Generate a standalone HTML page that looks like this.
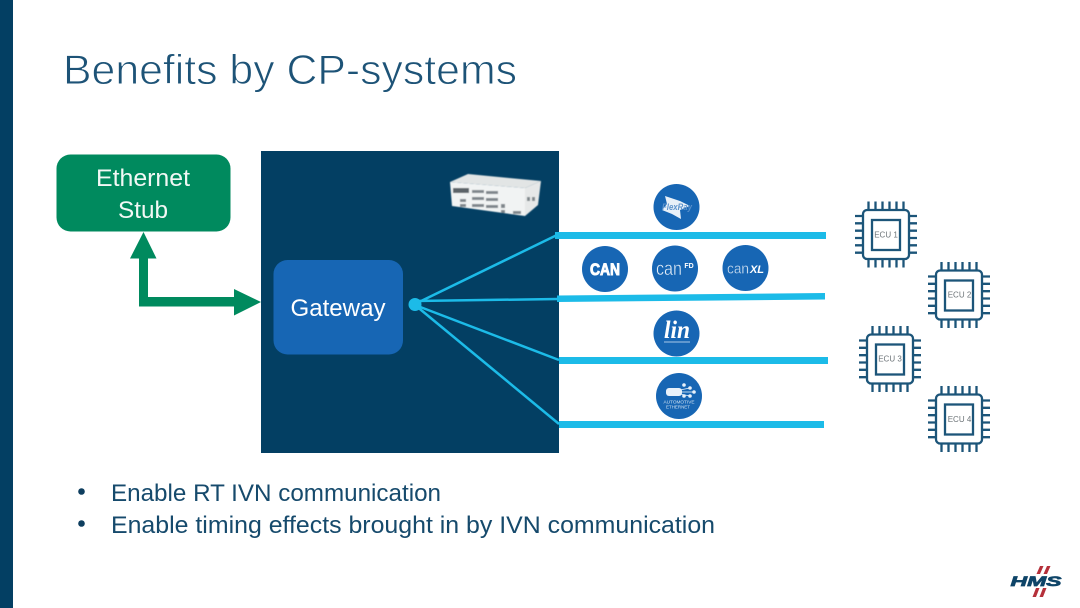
<!DOCTYPE html>
<html><head><meta charset="utf-8"><style>
html,body{margin:0;padding:0;background:#fff}
svg{display:block}
text{font-family:"Liberation Sans",sans-serif}
</style></head><body>
<svg xmlns="http://www.w3.org/2000/svg" width="1080" height="608" viewBox="0 0 1080 608">
<defs>
<g id="chip" fill="none" stroke="#1c5579" stroke-width="2.300">
<rect x="-23" y="-24.500" width="46" height="49" rx="4"/>
<rect x="-14" y="-14.500" width="28" height="30"/>
<path d="M-17.500-25V-33M-10.500-25V-33M-3.500-25V-33M3.500-25V-33M10.500-25V-33M17.500-25V-33M-17.500 25V33M-10.500 25V33M-3.500 25V33M3.500 25V33M10.500 25V33M17.500 25V33M-23-18.500H-31M-23-11.200H-31M-23-3.800H-31M-23 3.500H-31M-23 10.800H-31M-23 18.200H-31M23-18.500H31M23-11.200H31M23-3.800H31M23 3.500H31M23 10.800H31M23 18.200H31"/>
</g>
<filter id="soft" x="-10%" y="-10%" width="120%" height="120%"><feGaussianBlur stdDeviation="0.500"/></filter>
</defs>
<rect width="1080" height="608" fill="#fff"/>
<rect x="0" y="0" width="13" height="608" fill="#033f63"/>
<text x="63" y="84" font-size="42" fill="#1d5377" stroke="#fff" stroke-width="0.900" textLength="454" lengthAdjust="spacingAndGlyphs">Benefits by CP-systems</text>

<rect x="261" y="151" width="298" height="302" fill="#033f63"/>

<rect x="56.500" y="154.500" width="174" height="77" rx="14" fill="#008a5e"/>
<text x="143" y="186" font-size="24" fill="#f2f8f5" text-anchor="middle" textLength="94" lengthAdjust="spacingAndGlyphs">Ethernet</text>
<text x="143" y="218" font-size="24" fill="#f2f8f5" text-anchor="middle" textLength="50" lengthAdjust="spacingAndGlyphs">Stub</text>

<path d="M143.500 232L156.500 258.500H148V297H234V289L261 302L234 315.500V306.500H139V258.500H130Z" fill="#008a5e"/>

<rect x="273.500" y="260" width="129.500" height="94.500" rx="14" fill="#1766b4"/>
<text x="338" y="316" font-size="24" fill="#fff" text-anchor="middle" textLength="95" lengthAdjust="spacingAndGlyphs">Gateway</text>

<g stroke="#1cbbe8" stroke-width="2.500" fill="none">
<line x1="415" y1="304" x2="557" y2="235"/>
<line x1="415" y1="301" x2="558" y2="299"/>
<line x1="415" y1="305" x2="559" y2="360"/>
<line x1="415" y1="305" x2="559" y2="424"/>
</g>
<circle cx="415" cy="304.500" r="6.500" fill="#1cbbe8"/>

<g fill="#1cbbe8">
<rect x="555" y="232" width="271" height="7"/>
<polygon points="557,295.500 825,293 825,299.500 557,302"/>
<rect x="559" y="357" width="269" height="7"/>
<rect x="559" y="421" width="265" height="7"/>
</g>

<!-- gateway device -->
<g filter="url(#soft)">
<polygon points="450,182 468,174 541,181 525,188" fill="#e2e5e5"/>
<polygon points="450,182 525,188 525,216 452,206" fill="#f1f3f3"/>
<polygon points="525,188 541,181 538,205 525,216" fill="#e6e8e8"/>
<rect x="453" y="188" width="16" height="5" fill="#5b6368"/>
<g fill="#80878c">
<rect x="472" y="190" width="12" height="3"/><rect x="486" y="191" width="12" height="3"/>
<rect x="472" y="197" width="12" height="3"/><rect x="486" y="198" width="12" height="3"/>
<rect x="472" y="204" width="12" height="3"/><rect x="486" y="205" width="12" height="3"/>
<rect x="460" y="199" width="6" height="3"/><rect x="460" y="204" width="6" height="3"/>
<rect x="501" y="204" width="4" height="4"/><rect x="501" y="210" width="4" height="3"/>
<rect x="513" y="211" width="8" height="3"/>
<rect x="527" y="197" width="3" height="4"/><rect x="532" y="197" width="3" height="4"/>
</g>
</g>

<!-- protocol badges -->
<g fill="#1766b4">
<circle cx="676.500" cy="207" r="23"/>
<circle cx="605" cy="269" r="23"/>
<circle cx="675" cy="268.500" r="23"/>
<circle cx="745.500" cy="268" r="23"/>
<circle cx="676.500" cy="333.500" r="23"/>
<circle cx="679" cy="396" r="23"/>
</g>
<polygon points="665,196 680,201 690,206 680,210 681,219 672,214 662,210 667,204" fill="#e8f0f8"/>
<text x="677" y="210" font-size="9" font-style="italic" font-weight="bold" fill="#5d93cc" text-anchor="middle" textLength="30" lengthAdjust="spacingAndGlyphs">FlexRay</text>
<text x="605" y="275" font-size="17" font-weight="bold" fill="#fff" stroke="#fff" stroke-width="1" text-anchor="middle" textLength="30" lengthAdjust="spacingAndGlyphs">CAN</text>
<text x="669" y="275" font-size="19" fill="#e6eff8" stroke="#1766b4" stroke-width="0.400" text-anchor="middle" textLength="26" lengthAdjust="spacingAndGlyphs">can</text>
<text x="689" y="268" font-size="7" font-weight="bold" fill="#fff" text-anchor="middle">FD</text>
<text x="738" y="273.500" font-size="15" fill="#d4e3f2" stroke="#1766b4" stroke-width="0.300" text-anchor="middle" textLength="22" lengthAdjust="spacingAndGlyphs">can</text>
<text x="757" y="273" font-size="11" font-weight="bold" font-style="italic" fill="#fff" text-anchor="middle">XL</text>
<text x="677" y="338" font-size="25" font-style="italic" font-weight="bold" fill="#fff" text-anchor="middle" style="font-family:'Liberation Serif',serif" textLength="26" lengthAdjust="spacingAndGlyphs">lin</text>
<rect x="664" y="341.500" width="26" height="1" fill="#a8c8e8"/>
<g fill="#e8f1fa">
<rect x="666" y="388" width="16" height="8" rx="3"/>
<circle cx="684" cy="385" r="1.800"/><circle cx="690" cy="388" r="1.800"/><circle cx="694" cy="392" r="1.800"/><circle cx="690" cy="396" r="1.800"/><circle cx="684" cy="396" r="1.800"/>
</g>
<g stroke="#e8f1fa" stroke-width="0.800"><line x1="680" y1="390" x2="690" y2="388"/><line x1="680" y1="392" x2="694" y2="392"/><line x1="680" y1="394" x2="690" y2="396"/></g>
<text x="679" y="403.500" font-size="4.800" fill="#cfe0f1" text-anchor="middle" textLength="31" lengthAdjust="spacingAndGlyphs">AUTOMOTIVE</text>
<text x="678" y="408.500" font-size="4.800" fill="#cfe0f1" text-anchor="middle" textLength="24" lengthAdjust="spacingAndGlyphs">ETHERNET</text>

<!-- ECUs -->
<use href="#chip" x="886" y="234.500"/>
<use href="#chip" x="959" y="295"/>
<use href="#chip" x="890" y="359"/>
<use href="#chip" x="959" y="419"/>
<g font-size="8" fill="#6d7478" text-anchor="middle">
<text x="886" y="237.500">ECU 1</text>
<text x="959.500" y="297.500">ECU 2</text>
<text x="890" y="361.500">ECU 3</text>
<text x="959.500" y="422">ECU 4</text>
</g>

<!-- bullets -->
<circle cx="81.500" cy="491.500" r="3.300" fill="#0e3e5f"/>
<circle cx="81.500" cy="523.500" r="3.300" fill="#0e3e5f"/>
<text x="111" y="501" font-size="24" fill="#164a6c" textLength="330" lengthAdjust="spacingAndGlyphs">Enable RT IVN communication</text>
<text x="111" y="533" font-size="24" fill="#164a6c" textLength="604" lengthAdjust="spacingAndGlyphs">Enable timing effects brought in by IVN communication</text>

<!-- HMS logo -->
<g fill="#b5303a">
<polygon points="1040,566 1043.500,566 1040,574 1036.500,574"/>
<polygon points="1047,566 1050.500,566 1047,574 1043.500,574"/>
<polygon points="1036,588 1039.500,588 1036,597 1032.500,597"/>
<polygon points="1043,588 1046.500,588 1043,597 1039.500,597"/>
</g>
<text x="1036" y="586" font-size="14" font-weight="bold" font-style="italic" fill="#0e4468" stroke="#0e4468" stroke-width="0.700" text-anchor="middle" textLength="51" lengthAdjust="spacingAndGlyphs">HMS</text>
</svg>
</body></html>
